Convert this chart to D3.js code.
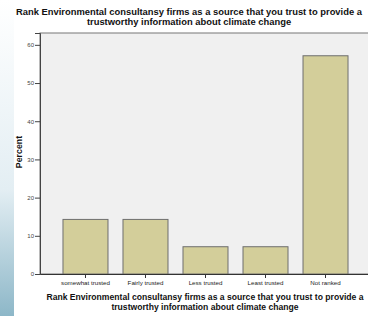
<!DOCTYPE html>
<html lang="en">
<head>
  <meta charset="UTF-8">
  <title>Rank Environmental consultansy firms</title>
  <style>
    body { margin: 0; background: #fff; }
    text { font-family: "Liberation Sans", Arial, sans-serif; }
  </style>
</head>
<body>
  <script src="https://d3js.org/d3.v7.min.js"></script>
  <script>
    const categories = ['somewhat trusted', 'Fairly trusted', 'Less trusted', 'Least trusted', 'Not ranked']
    const percents = [14.29, 14.29, 7.14, 7.14, 57.14]
    const yTicks = [0, 10, 20, 30, 40, 50, 60]
    const titleLines = [
      'Rank Environmental consultansy firms as a source that you trust to provide a',
      'trustworthy information about climate change'
    ]

    const width = 368
    const height = 316
    const plot = { left: 40, top: 33, right: 371, bottom: 274 }

    const svg = d3.select('body')
      .append('svg')
      .attr('width', width)
      .attr('height', height)

    // faint blue strip on the left edge
    const grad = svg.append('defs').append('linearGradient')
      .attr('id', 'edge')
      .attr('x1', 0).attr('y1', 0).attr('x2', 0).attr('y2', 1)
    grad.append('stop').attr('offset', '0%').attr('stop-color', '#ffffff')
    grad.append('stop').attr('offset', '60%').attr('stop-color', '#e3eef3')
    grad.append('stop').attr('offset', '100%').attr('stop-color', '#8db7c8')
    svg.append('rect')
      .attr('x', 0).attr('y', 0)
      .attr('width', 14).attr('height', height)
      .attr('fill', 'url(#edge)')

    const x = d3.scaleBand()
      .domain(categories)
      .range([plot.left, plot.right])
      .paddingInner(0.25)
      .paddingOuter(0.383)

    const y = d3.scaleLinear()
      .domain([0, 63.1])
      .range([plot.bottom, plot.top])

    svg.append('rect')
      .attr('x', plot.left)
      .attr('y', plot.top)
      .attr('width', plot.right - plot.left)
      .attr('height', plot.bottom - plot.top)
      .attr('fill', '#f0f0f0')
      .attr('stroke', '#777')
      .attr('stroke-width', 1)

    svg.selectAll('rect.bar')
      .data(percents)
      .enter()
      .append('rect')
      .attr('class', 'bar')
      .attr('x', (d, i) => x(categories[i]))
      .attr('y', d => y(d))
      .attr('width', x.bandwidth())
      .attr('height', d => y(0) - y(d))
      .attr('fill', '#d3ce9a')
      .attr('stroke', '#6e6e6e')
      .attr('stroke-width', 1)

    const yAxis = svg.append('g')
      .attr('transform', `translate(${plot.left},0)`)
      .call(d3.axisLeft(y).tickValues(yTicks).tickSize(5).tickPadding(1))
    yAxis.select('.domain').attr('stroke', '#444')
    yAxis.selectAll('.tick line').attr('stroke', '#444')
    yAxis.selectAll('text').attr('font-size', 6).attr('fill', '#444')

    const xAxis = svg.append('g')
      .attr('transform', `translate(0,${plot.bottom})`)
      .call(d3.axisBottom(x).tickSize(4).tickPadding(3).tickSizeOuter(0))
    xAxis.select('.domain').attr('stroke', '#333')
    xAxis.selectAll('.tick line').attr('stroke', '#333')
    xAxis.selectAll('text').attr('font-size', 6.2).attr('fill', '#222')

    svg.append('text')
      .attr('transform', 'translate(22,152) rotate(-90)')
      .attr('text-anchor', 'middle')
      .attr('font-size', 8.8)
      .attr('font-weight', 'bold')
      .attr('fill', '#111')
      .text('Percent')

    svg.selectAll('text.title')
      .data(titleLines)
      .enter()
      .append('text')
      .attr('class', 'title')
      .attr('x', 189)
      .attr('y', (d, i) => 15 + i * 10)
      .attr('text-anchor', 'middle')
      .attr('font-size', 9.4)
      .attr('font-weight', 'bold')
      .attr('fill', '#111')
      .text(d => d)

    svg.selectAll('text.xtitle')
      .data(titleLines)
      .enter()
      .append('text')
      .attr('class', 'xtitle')
      .attr('x', 205)
      .attr('y', (d, i) => 300 + i * 10)
      .attr('text-anchor', 'middle')
      .attr('font-size', 8.6)
      .attr('font-weight', 'bold')
      .attr('fill', '#111')
      .text(d => d)
  </script>
</body>
</html>
